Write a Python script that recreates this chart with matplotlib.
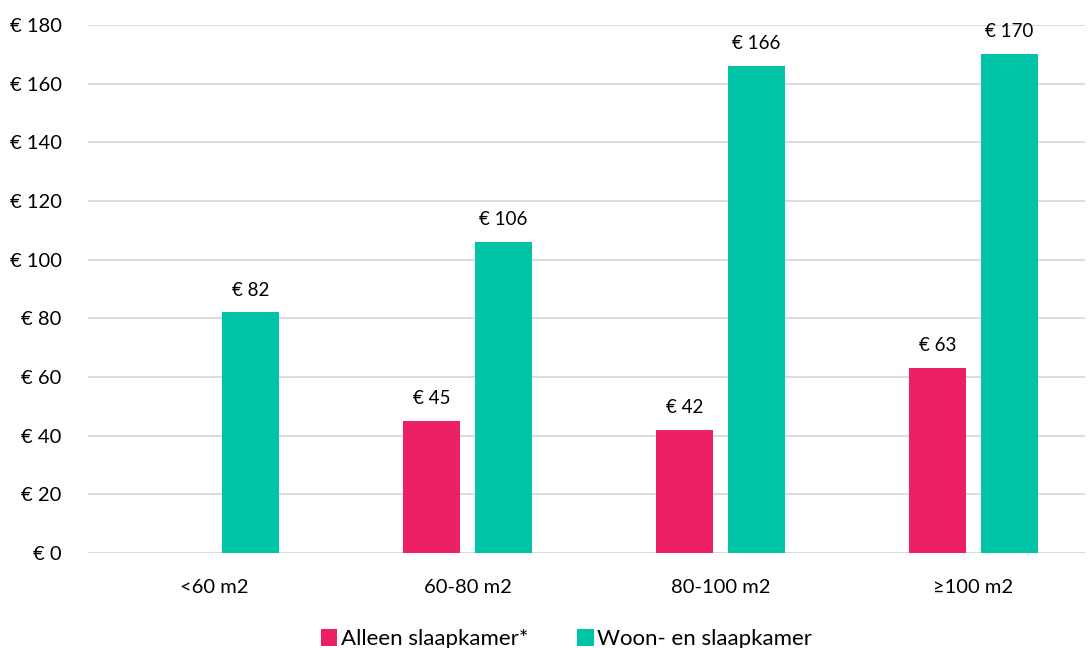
import matplotlib.pyplot as plt
import numpy as np

categories = ["<60 m2", "60-80 m2", "80-100 m2", "≥100 m2"]
alleen_slaapkamer = [np.nan, 45, 42, 63]
woon_en_slaapkamer = [82, 106, 166, 170]
series_names = ["Alleen slaapkamer*", "Woon- en slaapkamer"]
y_ticks = list(range(0, 181, 20))

PINK = "#EE2064"
GREEN = "#00C4A8"
GRID = "#D9D9D9"

plt.rcParams["font.family"] = ["Lato", "DejaVu Sans"]

fig = plt.figure(figsize=(10.89, 6.48), dpi=100)
ax = fig.add_axes([88 / 1089, 95 / 648, (1085 - 88) / 1089, 528 / 648])

x = np.arange(len(categories))
width = 0.225
offset = 0.142

bars_a = ax.bar(x - offset, alleen_slaapkamer, width, color=PINK, label=series_names[0], zorder=3)
bars_w = ax.bar(x + offset, woon_en_slaapkamer, width, color=GREEN, label=series_names[1], zorder=3)

for bars, vals in ((bars_a, alleen_slaapkamer), (bars_w, woon_en_slaapkamer)):
    for b, v in zip(bars, vals):
        if np.isnan(v):
            continue
        ax.annotate(f"€ {v:.0f}", (b.get_x() + b.get_width() / 2, v),
                    xytext=(0, 10), textcoords="offset points",
                    ha="center", va="bottom", fontsize=13.5)

ax.set_xlim(-0.5, (1085 - 88) / 253 - 0.5)
ax.set_ylim(0, 180)
ax.set_yticks(y_ticks)
ax.set_yticklabels([f"€ {t}" for t in y_ticks], fontsize=14.5)
ax.set_xticks(x)
ax.set_xticklabels(categories, fontsize=14.5)
ax.tick_params(axis="both", length=0)
ax.tick_params(axis="y", pad=19)
ax.tick_params(axis="x", pad=19)
ax.yaxis.grid(True, color=GRID, linewidth=1.3, zorder=0)
for s in ax.spines.values():
    s.set_visible(False)
ax.axhline(0, color=GRID, linewidth=1.3, zorder=2)

fig.legend(loc="lower center", bbox_to_anchor=(0.52, -0.033), ncol=2, frameon=False,
           fontsize=16, handlelength=0.75, handleheight=0.75, handletextpad=0.15,
           columnspacing=2.2)

fig.savefig("out.png", dpi=100)
